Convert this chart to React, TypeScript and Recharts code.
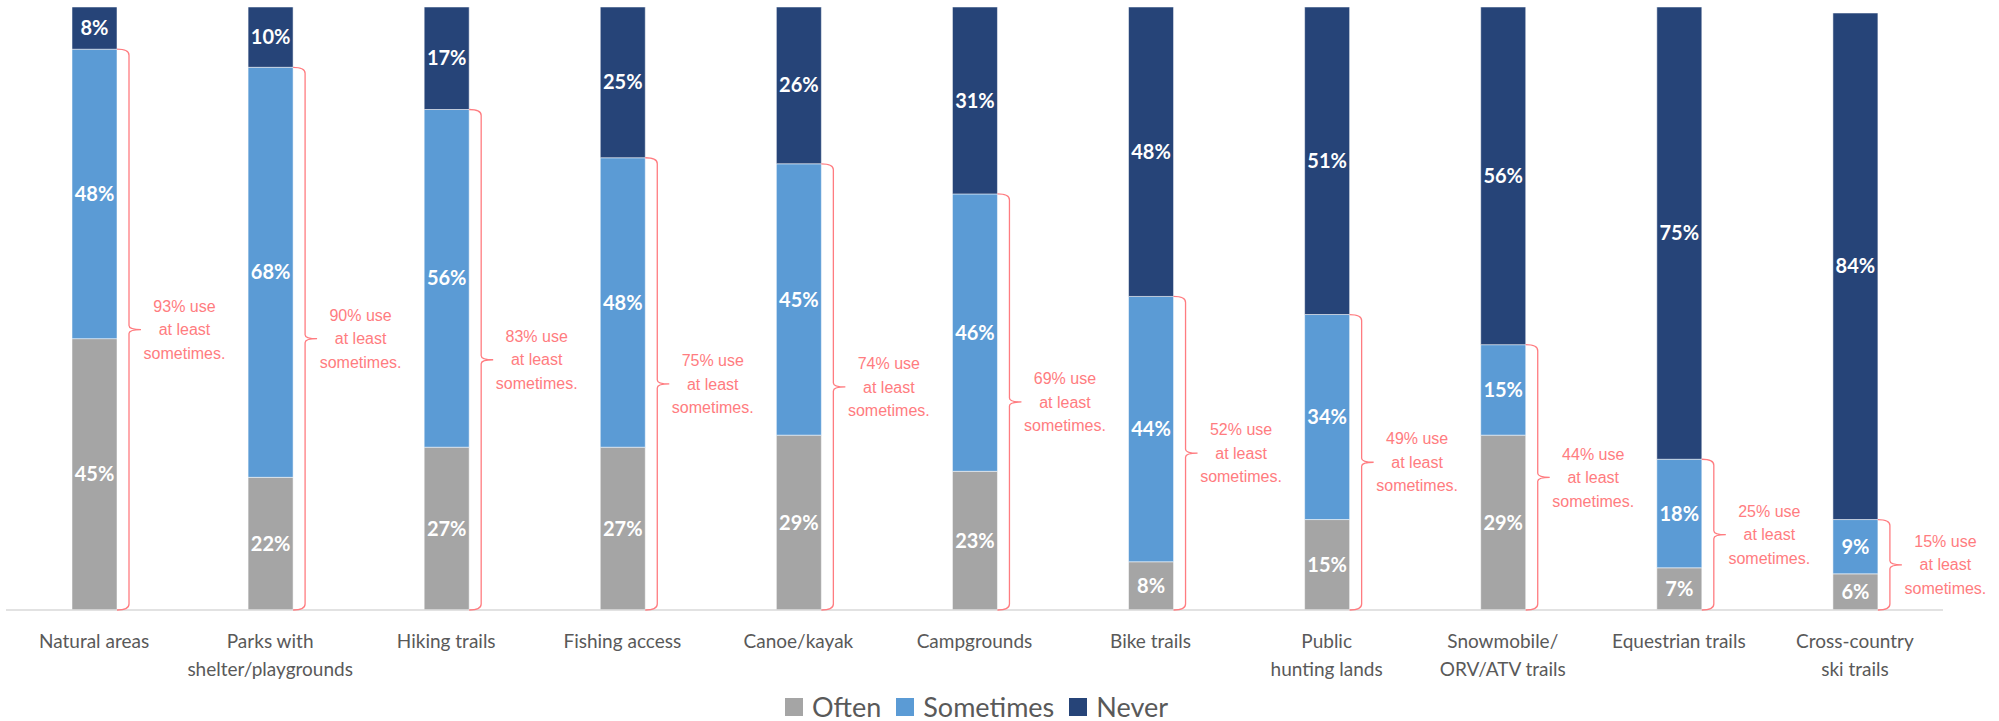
import React from "react";
import { BarChart, Bar, XAxis, YAxis, LabelList, Legend } from "recharts";

const categories = [
  "Natural areas",
  "Parks with\nshelter/playgrounds",
  "Hiking trails",
  "Fishing access",
  "Canoe/kayak",
  "Campgrounds",
  "Bike trails",
  "Public\nhunting lands",
  "Snowmobile/\nORV/ATV trails",
  "Equestrian trails",
  "Cross-country\nski trails",
];
const often = [45, 22, 27, 27, 29, 23, 8, 15, 29, 7, 6];
const sometimes = [48, 68, 56, 48, 45, 46, 44, 34, 15, 18, 9];
const never = [8, 10, 17, 25, 26, 31, 48, 51, 56, 75, 84];
const atLeast = [93, 90, 83, 75, 74, 69, 52, 49, 44, 25, 15];

const seriesNames = ["Often", "Sometimes", "Never"];
const seriesColors = ["#A5A5A5", "#5B9BD5", "#264478"];

const data = categories.map((cat, i) => ({
  cat,
  often: often[i],
  sometimes: sometimes[i],
  never: never[i],
  atLeast: atLeast[i],
}));

const BRACKET = "#FF7C80";

const Bracket = (props: any) => {
  const vb = props.viewBox || props;
  const x = Number(vb.x);
  const y = Number(vb.y);
  const w = Number(vb.width);
  const h = Number(vb.height);
  const value = props.value;
  const right = x + w;
  const X = right + 12;
  const top = y;
  const bottom = y + h;
  const mid = (top + bottom) / 2;
  const d = `M ${right} ${top} Q ${X} ${top} ${X} ${top + 6} L ${X} ${mid - 4} Q ${X} ${mid} ${X + 12} ${mid} Q ${X} ${mid} ${X} ${mid + 4} L ${X} ${bottom - 6} Q ${X} ${bottom} ${right} ${bottom}`;
  const cx = x + w / 2 + 90;
  return (
    <g>
      <path d={d} fill="none" stroke={BRACKET} strokeWidth={1.3} />
      <text
        x={cx}
        y={mid}
        textAnchor="middle"
        fill={BRACKET}
        fontFamily="Liberation Sans, Arial, sans-serif"
        fontSize={16}
      >
        <tspan x={cx} dy={-23.5 + 5.7}>{`${value}% use`}</tspan>
        <tspan x={cx} dy={23.5}>at least</tspan>
        <tspan x={cx} dy={23.5}>sometimes.</tspan>
      </text>
    </g>
  );
};

const Tick = (props: any) => {
  const { x, y, payload } = props;
  const lines = String(payload.value).split("\n");
  return (
    <text
      x={x}
      y={y}
      textAnchor="middle"
      fill="#595959"
      fontFamily="Lato, sans-serif"
      fontSize={19}
    >
      {lines.map((l, i) => (
        <tspan key={i} x={x} dy={i === 0 ? 30 : 28}>
          {l}
        </tspan>
      ))}
    </text>
  );
};

const LegendContent = () => (
  <div
    style={{
      display: "flex",
      alignItems: "center",
      fontFamily: "Lato, sans-serif",
      fontSize: 27,
      color: "#595959",
      lineHeight: "34px",
      whiteSpace: "nowrap",
    }}
  >
    {seriesNames.map((n, i) => (
      <div key={n} style={{ display: "flex", alignItems: "center", marginRight: 15 }}>
        <div style={{ width: 18, height: 18, background: seriesColors[i], marginRight: 9 }} />
        <span>{n}</span>
      </div>
    ))}
  </div>
);

const labelStyle = {
  fill: "#FFFFFF",
  fontFamily: "Lato, sans-serif",
  fontWeight: 700,
  fontSize: 20,
};

export default function App() {
  return (
    <div style={{ position: "absolute", left: 0, top: 0, width: 1999, height: 721, background: "#fff" }}>
      <BarChart
        width={1999}
        height={721}
        data={data}
        margin={{ top: 7, right: 56, left: 6, bottom: 41 }}
      >
        <XAxis
          dataKey="cat"
          height={70}
          axisLine={{ stroke: "#D9D9D9", strokeWidth: 1.5 }}
          tickLine={false}
          tick={<Tick />}
          interval={0}
        />
        <XAxis xAxisId="br" dataKey="cat" hide />
        <YAxis hide domain={[0, 100]} allowDataOverflow />
        <Legend
          layout="horizontal"
          verticalAlign="middle"
          align="center"
          content={<LegendContent />}
          wrapperStyle={{ position: "absolute", left: 785, top: 690, width: "auto" }}
        />
        <Bar dataKey="often" name="Often" stackId="a" fill={seriesColors[0]} stroke="#FFFFFF" strokeOpacity={0.5} strokeWidth={1} barSize={45} isAnimationActive={false}>
          <LabelList dataKey="often" position="center" formatter={(v: any) => `${v}%`} style={labelStyle} />
        </Bar>
        <Bar dataKey="sometimes" name="Sometimes" stackId="a" fill={seriesColors[1]} stroke="#FFFFFF" strokeOpacity={0.5} strokeWidth={1} barSize={45} isAnimationActive={false}>
          <LabelList dataKey="sometimes" position="center" formatter={(v: any) => `${v}%`} style={labelStyle} />
        </Bar>
        <Bar dataKey="never" name="Never" stackId="a" fill={seriesColors[2]} stroke="#FFFFFF" strokeOpacity={0.5} strokeWidth={1} barSize={45} isAnimationActive={false}>
          <LabelList dataKey="never" position="center" formatter={(v: any) => `${v}%`} style={labelStyle} />
        </Bar>
        <Bar
          dataKey="atLeast"
          xAxisId="br"
          fill="none"
          barSize={45}
          isAnimationActive={false}
          legendType="none"
        >
          <LabelList dataKey="atLeast" content={<Bracket />} />
        </Bar>
      </BarChart>
    </div>
  );
}
